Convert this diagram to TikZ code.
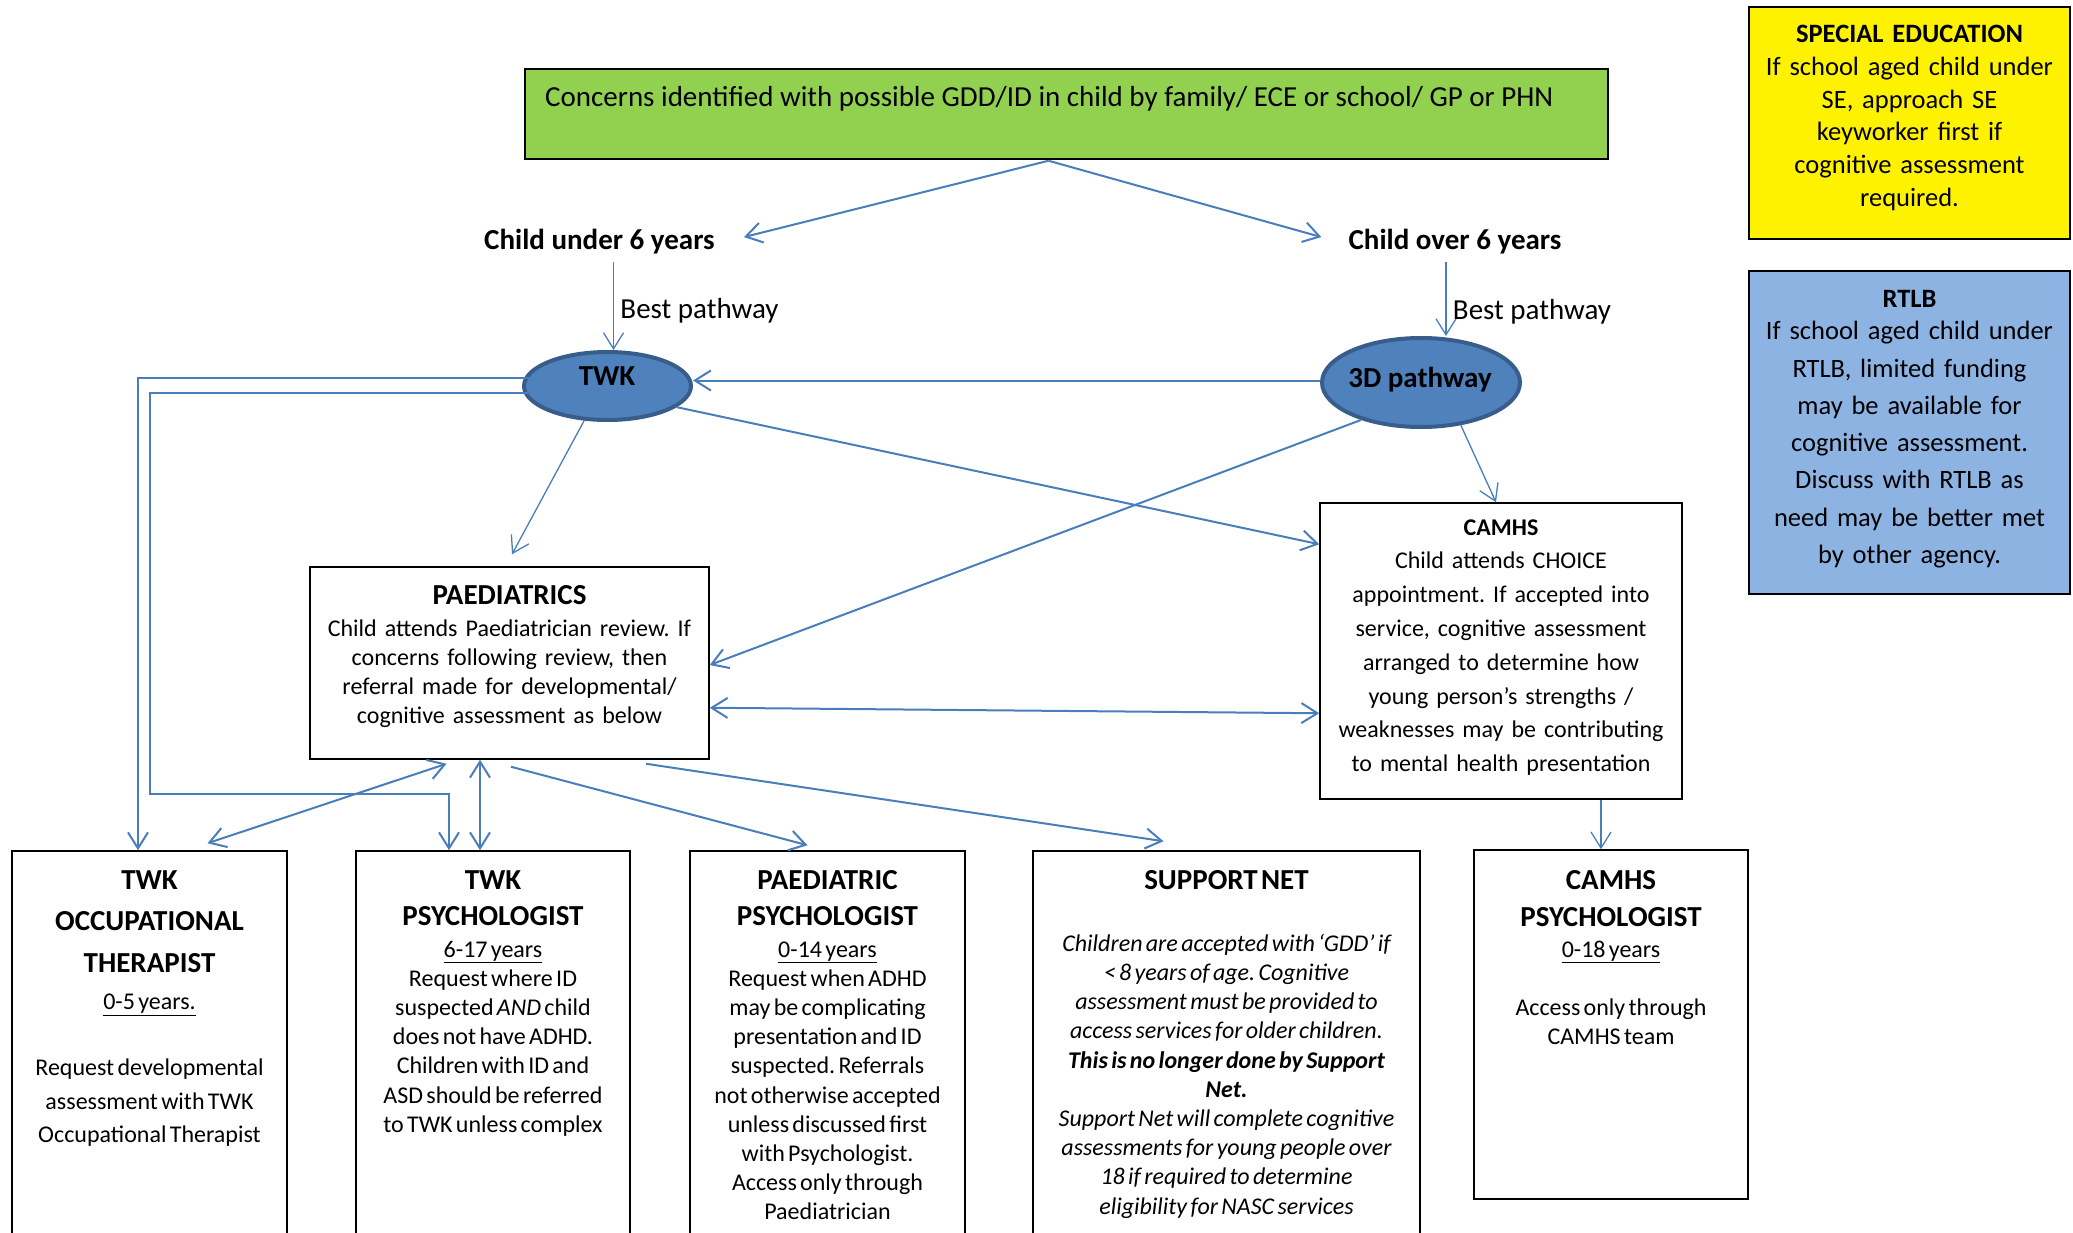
\documentclass[tikz,border=0pt]{standalone}
\usepackage{fontspec}
\setmainfont{Carlito}
\usetikzlibrary{arrows.meta,positioning,calc,shapes.geometric}
\frenchspacing

\definecolor{flowblue}{HTML}{4A7EBB}
\definecolor{ovalfill}{HTML}{4F81BD}
\definecolor{ovalline}{HTML}{385D8A}
\definecolor{concgreen}{HTML}{92D050}
\definecolor{rtlbblue}{HTML}{8DB3E2}

\newcommand{\hdfont}{\fontsize{29}{36}\selectfont}
\newcommand{\bdfont}{\fontsize{24}{29}\selectfont}

\tikzset{
  arr/.style={draw=flowblue, line width=2pt, -{Straight Barb[length=16pt,width=20pt]}},
  dblarr/.style={arr, {Straight Barb[length=16pt,width=20pt]}-{Straight Barb[length=16pt,width=20pt]}},
  thinarr/.style={arr, line width=1.3pt},
  box/.style={draw, line width=1.5pt, inner sep=0pt},
  oval/.style={ellipse, draw=ovalline, fill=ovalfill, line width=4pt, inner sep=0pt},
  txt/.style={align=center, inner sep=0pt, anchor=base},
}

\begin{document}
\begin{tikzpicture}[x=1pt,y=-1pt]
    \useasboundingbox (0,0) rectangle (2073,1233);
    \clip (0,0) rectangle (2073,1233);
    % Top row
    \node[box, fill=concgreen, minimum width=1083pt, minimum height=90pt] (concern) at (1066.5,114) {};
    \node[txt, anchor=base west, font=\hdfont] (concerntxt) at (545,107) {Concerns identified with possible GDD/ID in child by family/ ECE or school/ GP or PHN};
    \node[txt, font=\hdfont\bfseries] (under) at (599.5,250) {Child under 6 years};
    \node[txt, font=\hdfont\bfseries] (over) at (1455,250) {Child over 6 years};
    % Side notes
    \node[box, fill=yellow, minimum width=321pt, minimum height=232pt] (se) at (1909.5,123) {};
    \node[txt, text width=311pt, font=\fontsize{26.5}{32.8}\selectfont] (setxt) at (1909.5,42.5)
        {\textbf{SPECIAL EDUCATION}\\ If school aged child under\\ SE, approach SE\\ keyworker first if\\ cognitive assessment\\ required.};
    \node[box, fill=rtlbblue, minimum width=321pt, minimum height=323pt] (rtlb) at (1909.5,432.5) {};
    \node[txt, text width=311pt, font=\fontsize{26.5}{37.3}\selectfont] (rtlbtxt) at (1909.5,307.5)
        {\textbf{RTLB}\\[-5pt] If school aged child under\\ RTLB, limited funding\\ may be available for\\ cognitive assessment.\\ Discuss with RTLB as\\ need may be better met\\ by other agency.};
    % Pathways
    \node[oval, minimum width=167pt, minimum height=68pt] (twk) at (607.5,386) {};
    \node[txt, font=\hdfont\bfseries] (twktxt) at (607,385.5) {TWK};
    \node[oval, minimum width=198pt, minimum height=89pt] (tdp) at (1421,382.5) {};
    \node[txt, font=\hdfont\bfseries] (tdptxt) at (1420,387.5) {3D pathway};
    % Services
    \node[box, minimum width=399pt, minimum height=192pt] (paed) at (509.5,663) {};
    \node[txt, text width=390pt, font=\bdfont] (paedtxt) at (509.5,604)
        {{\hdfont\bfseries PAEDIATRICS}\\[3pt] Child attends Paediatrician review. If\\ concerns following review, then\\ referral made for developmental/\\ cognitive assessment as below};
    \node[box, minimum width=362pt, minimum height=296pt] (camhs) at (1501,651) {};
    \node[txt, text width=352pt, font=\fontsize{24}{33.8}\selectfont] (camhstxt) at (1501,535)
        {\textbf{CAMHS}\\ Child attends CHOICE\\ appointment. If accepted into\\ service, cognitive assessment\\ arranged to determine how\\ young person’s strengths /\\ weaknesses may be contributing\\ to mental health presentation};
    % Assessment providers
    \node[box, minimum width=275pt, minimum height=409pt] (twkot) at (149.5,1055.5) {};
    \node[txt, text width=265pt] (twkottxt) at (149.5,889)
        {\fontsize{29}{41.5}\selectfont\bfseries TWK\\ OCCUPATIONAL\\ THERAPIST\par
         \fontsize{24}{37.5}\selectfont\mdseries \underline{0-5 years.}\par
         \vspace{32.5pt}\fontsize{24}{33.5}\selectfont Request developmental\\ assessment with TWK\\ Occupational Therapist\par};
    \node[box, minimum width=274pt, minimum height=409pt] (twkpsy) at (493,1055.5) {};
    \node[txt, text width=264pt] (twkpsytxt) at (493,889)
        {\hdfont\bfseries TWK\\ PSYCHOLOGIST\par
         \fontsize{24}{32}\selectfont\mdseries \underline{6-17 years}\par
         \fontsize{24}{29.2}\selectfont Request where ID\\ suspected \textit{AND} child\\ does not have ADHD.\\ Children with ID and\\ ASD should be referred\\ to TWK unless complex\par};
    \node[box, minimum width=275pt, minimum height=409pt] (paedpsy) at (827.5,1055.5) {};
    \node[txt, text width=265pt] (paedpsytxt) at (827.5,889)
        {\hdfont\bfseries PAEDIATRIC\\ PSYCHOLOGIST\par
         \fontsize{24}{32}\selectfont\mdseries \underline{0-14 years}\par
         \fontsize{24}{29.2}\selectfont Request when ADHD\\ may be complicating\\ presentation and ID\\ suspected. Referrals\\ not otherwise accepted\\ unless discussed first\\ with Psychologist.\\ Access only through\\ Paediatrician\par};
    \node[box, minimum width=387pt, minimum height=409pt] (supnet) at (1226.5,1055.5) {};
    \node[txt, text width=377pt] (supnettxt) at (1226.5,889)
        {\hdfont\bfseries SUPPORT NET\par
         \vspace{33pt}\fontsize{24}{29.2}\selectfont\mdseries\itshape Children are accepted with ‘GDD’ if\\ < 8 years of age. Cognitive\\ assessment must be provided to\\ access services for older children.\\ {\bfseries This is no longer done by Support\\ Net.}\\ Support Net will complete cognitive\\ assessments for young people over\\ 18 if required to determine\\ eligibility for NASC services\par};
    \node[box, minimum width=274pt, minimum height=349pt] (camhspsy) at (1611,1024.5) {};
    \node[txt, text width=264pt] (camhspsytxt) at (1611,889)
        {\fontsize{29}{37}\selectfont\bfseries CAMHS\\ PSYCHOLOGIST\par
         \fontsize{24}{31}\selectfont\mdseries \underline{0-18 years}\par
         \vspace{30pt}\fontsize{24}{28.5}\selectfont Access only through\\ CAMHS team\par};
    % Connectors
    \draw[arr] ($(concern.south)+(-18,1)$) -- ($(under.east)+(29,-5)$);
    \draw[arr] ($(concern.south)+(-18,1)$) -- ($(over.west)+(-27,-5)$);
    \draw[thinarr] ($(under.south)+(14,7)$) coordinate (bpl) -- (bpl |- twk.north)
        node[pos=0.56, right=3pt, font=\hdfont] (bestl) {Best pathway};
    \draw[thinarr] ($(over.south)+(-9,7)$) coordinate (bpr) -- (bpr |- tdp.north)
        node[pos=0.68, right=3pt, font=\hdfont] (bestr) {Best pathway};
    \draw[arr] ([yshift=2pt]tdp.west) -- ([yshift=2pt]tdp.west -| twk.east);
    \draw[arr] (twk.-17) -- ($(camhs.north west)+(0,42)$);
    \draw[thinarr] (twk.236) -- ($(paed.north)+(2.5,-12)$);
    \draw[arr] (tdp.212) -- ($(paed.east)+(0,2)$);
    \draw[thinarr] (tdp.-47) -- ($(camhs.north)+(-5,0)$);
    \draw[dblarr] ($(paed.south east)+(0,-52)$) -- ($(camhs.north west)+(0,211)$);
    \draw[arr] ($(twk.west)+(8,-8)$) -| ($(twkot.north)+(-11.5,0)$);
    \draw[arr] ($(twk.west)+(8,7)$) -| ($(twkot.north)+(0,-56)$) -| ($(twkpsy.north)+(-44,0)$);
    \draw[dblarr] ($(paed.south)+(-63,4)$) -- ($(twkot.north)+(58,-7)$);
    \draw[dblarr] ($(paed.south)+(-29.5,0)$) coordinate (pp) -- (pp |- twkpsy.north);
    \draw[arr] ($(paed.south)+(1.5,7)$) -- ($(paedpsy.north)+(-20,-5)$);
    \draw[arr] ($(paed.south)+(136.5,4)$) -- ($(supnet.north)+(-63,-9)$);
    \draw[thinarr] ($(camhs.south)+(100,0)$) coordinate (cc) -- (cc |- camhspsy.north);
\end{tikzpicture}
\end{document}
